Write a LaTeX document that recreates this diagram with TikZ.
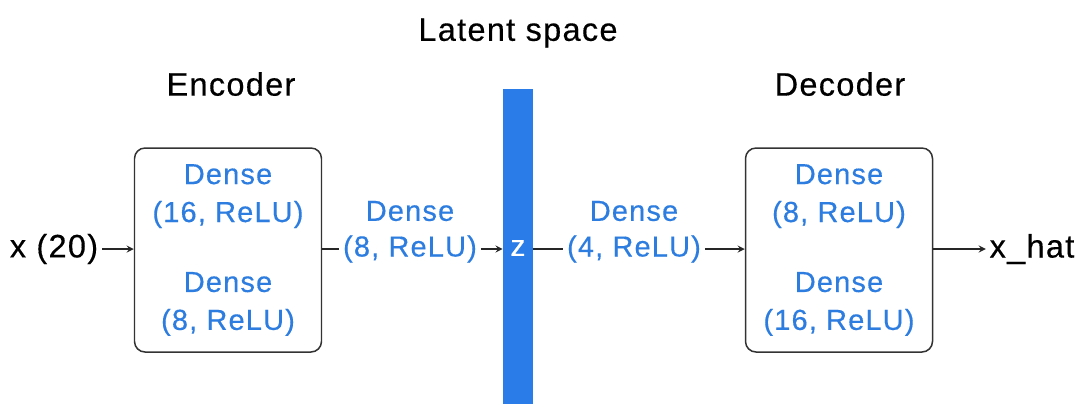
\documentclass[tikz,border=0pt]{standalone}
\usepackage{fontspec}
\setmainfont[LetterSpace=4,FakeBold=0.4]{Liberation Sans}
\usetikzlibrary{shapes}
\usetikzlibrary{arrows}
\usetikzlibrary{positioning}
\usetikzlibrary{calc}
\definecolor{layerblue}{HTML}{2C7DDF}
\definecolor{barblue}{HTML}{2A7DE8}
\definecolor{boxgray}{HTML}{333333}

\begin{document}
\begin{tikzpicture}[x=0.02cm,y=-0.02cm]
\tikzstyle{label}=[font=\fontsize{18.5}{21.6}\selectfont,inner sep=2pt]
\tikzstyle{layer}=[inner sep=2pt,font=\fontsize{16.5}{21.6}\selectfont,text=layerblue,align=center]
\tikzstyle{block}=[layer,rectangle,draw=boxgray,line width=0.85pt,rounded corners=6pt,
minimum width=187*0.02cm,minimum height=204*0.02cm,fill=white]
\tikzstyle{latent}=[rectangle,fill=barblue,minimum width=30*0.02cm,minimum height=318*0.02cm,
inner sep=0pt,text=white,font=\fontsize{17}{21.6}\selectfont]
%style des fleches
\tikzstyle{suite}=[->,>=stealth,line width=0.8pt,draw=black!85]
\tikzstyle{trait}=[line width=0.8pt,draw=black!85]
\useasboundingbox (0,0) rectangle (1083,403);
%titres
\node[label] (titlat) at (518,33) {Latent space};
\node[label] (titenc) at (231,84) {Encoder};
\node[label] (titdec) at (840,84) {Decoder};
%placement des noeuds
\node[label] (xin) at (54,249) {x (20)};
\node[block] (enc) at (228,250) {Dense\\(16, ReLU)\\[0.64cm]Dense\\(8, ReLU)};
\node[latent] (bar) at (518,248) {z};
\node[block] (dec) at (839,250) {Dense\\(8, ReLU)\\[0.64cm]Dense\\(16, ReLU)};
\node[label] (xout) at (1032,249) {x\_hat};
\node[layer] (enclat) at (410,249) {(8, ReLU)};
\node[layer] (enclattop) at (410,211) {Dense};
\node[layer] (declat) at (634,249) {(4, ReLU)};
\node[layer] (declattop) at (634,211) {Dense};
%placement des fleches
\draw[suite] (xin.east) -- (xin.east -| enc.west);
\draw[trait] (enclat.west -| enc.east) -- (enclat.west);
\draw[suite] (enclat.east) -- (enclat.east -| bar.west);
\draw[trait] (declat.west -| bar.east) -- (declat.west);
\draw[suite] (declat.east) -- (declat.east -| dec.west);
\draw[suite] (xout.west -| dec.east) -- (xout.west);
\end{tikzpicture}
\end{document}
